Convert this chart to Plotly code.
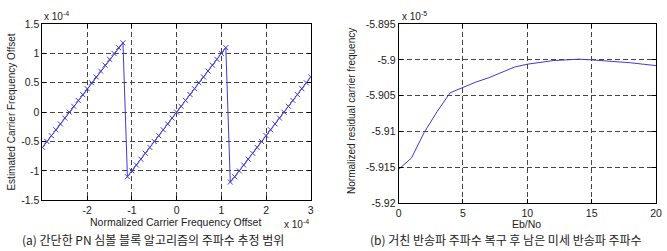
import plotly.graph_objects as go

# ---- (a) data: normalized carrier frequency offset (x 1e-4) ----
offset_true = [-3.0, -2.9, -2.8, -2.7, -2.6, -2.5, -2.4, -2.3, -2.2, -2.1,
               -2.0, -1.9, -1.8, -1.7, -1.6, -1.5, -1.4, -1.3, -1.2,
               -1.1, -1.0, -0.9, -0.8, -0.7, -0.6, -0.5, -0.4, -0.3, -0.2,
               -0.1, 0.0, 0.1, 0.2, 0.3, 0.4, 0.5, 0.6, 0.7, 0.8, 0.9, 1.0, 1.1,
               1.2, 1.3, 1.4, 1.5, 1.6, 1.7, 1.8, 1.9, 2.0, 2.1,
               2.2, 2.3, 2.4, 2.5, 2.6, 2.7, 2.8, 2.9, 3.0]
offset_est = [-0.6, -0.5, -0.4, -0.3, -0.2, -0.1, 0.0, 0.1, 0.2, 0.3,
              0.4, 0.5, 0.6, 0.7, 0.8, 0.9, 1.0, 1.1, 1.18,
              -1.1, -1.0, -0.9, -0.8, -0.7, -0.6, -0.5, -0.4, -0.3, -0.2,
              -0.1, 0.0, 0.1, 0.2, 0.3, 0.4, 0.5, 0.6, 0.7, 0.8, 0.9, 1.0, 1.1,
              -1.19, -1.1, -1.0, -0.9, -0.8, -0.7, -0.6, -0.5, -0.4, -0.3,
              -0.2, -0.1, 0.0, 0.1, 0.2, 0.3, 0.4, 0.5, 0.6]

# ---- (b) data: residual carrier frequency (x 1e-5) vs Eb/No ----
ebno = [0, 1, 2, 3, 4, 5, 6, 7, 8, 9, 10, 11, 12, 13, 14, 15, 16, 17, 18, 19, 20]
residual = [-5.9153, -5.9137, -5.9101, -5.9072, -5.9046, -5.9038, -5.9031,
            -5.9025, -5.9018, -5.9010, -5.9006, -5.9003, -5.9001, -5.9000,
            -5.8999, -5.9000, -5.9001, -5.9002, -5.9004, -5.9006, -5.9008]

a_xticks = [-2, -1, 0, 1, 2, 3]
a_yticks = [-1.5, -1, -0.5, 0, 0.5, 1, 1.5]
a_ytext = ["-1.5", "-1", "-0.5", "0", "0.5", "1", "1.5"]
b_xticks = [0, 5, 10, 15, 20]
b_yticks = [-5.92, -5.915, -5.91, -5.905, -5.9, -5.895]
b_ytext = ["-5.92", "-5.915", "-5.91", "-5.905", "-5.9", "-5.895"]

BLUE = "#3b3bd6"
FONT = "Liberation Sans, Arial, sans-serif"
KFONT = "Noto Sans CJK KR, sans-serif"

fig = go.Figure()
fig.add_trace(go.Scatter(
    x=offset_true, y=offset_est, mode="lines+markers",
    line=dict(color=BLUE, width=1),
    marker=dict(symbol="x-thin", size=5, line=dict(width=1, color=BLUE), color=BLUE),
    xaxis="x", yaxis="y", showlegend=False))
fig.add_trace(go.Scatter(
    x=ebno, y=residual, mode="lines",
    line=dict(color=BLUE, width=1),
    xaxis="x2", yaxis="y2", showlegend=False))

W, H = 667, 251
axis_common = dict(
    showline=True, linecolor="black", linewidth=1, mirror="ticks",
    ticks="inside", ticklen=4, tickcolor="black",
    showgrid=True, gridcolor="#444444", gridwidth=1, griddash="5px,3px",
    zeroline=False, tickfont=dict(family=FONT, size=10.5, color="#222"),
)

fig.update_layout(
    width=W, height=H, margin=dict(l=0, r=0, t=0, b=0),
    paper_bgcolor="white", plot_bgcolor="white",
    xaxis=dict(domain=[40 / W, 312 / W], range=[-3, 3], tickvals=a_xticks,
               ticktext=[str(v) for v in a_xticks], anchor="y", **axis_common),
    yaxis=dict(domain=[1 - 204 / H, 1 - 19 / H], range=[-1.5, 1.5], tickvals=a_yticks,
               ticktext=a_ytext, anchor="x", **axis_common),
    xaxis2=dict(domain=[401 / W, 662 / W], range=[0, 20], tickvals=b_xticks,
                ticktext=[str(v) for v in b_xticks], anchor="y2", **axis_common),
    yaxis2=dict(domain=[1 - 207 / H, 1 - 19 / H], range=[-5.92, -5.895], tickvals=b_yticks,
                ticktext=b_ytext, anchor="x2", **axis_common),
)

def ann(text, x, y, size=11, angle=0, font=FONT, xanchor="center", yanchor="middle"):
    fig.add_annotation(text=text, x=x / W, y=1 - y / H, xref="paper", yref="paper",
                       showarrow=False, textangle=angle, xanchor=xanchor, yanchor=yanchor,
                       font=dict(family=font, size=size, color="#222"))

ann("Normalized Carrier Frequency Offset", 175, 227, size=10.5)
ann("Estimated Carrier Frequency Offset", 9, 111, size=10, angle=-90)
ann("x 10<sup>-4</sup>", 40, 10, size=10, xanchor="left")
ann("x 10<sup>-4</sup>", 283, 229, size=10, xanchor="left")
ann("Eb/No", 531, 229, size=10.5)
ann("Normalized residual carrier frequency", 354, 110, size=10, angle=-90)
ann("x 10<sup>-5</sup>", 402, 10, size=10, xanchor="left")
ann("(a) 간단한 PN 심볼 블록 알고리즘의 주파수 추정 범위", 152, 245, size=12, font=KFONT)
ann("(b) 거친 반송파 주파수 복구 후 남은 미세 반송파 주파수", 510, 245, size=12, font=KFONT)

fig.write_html("out.html")
